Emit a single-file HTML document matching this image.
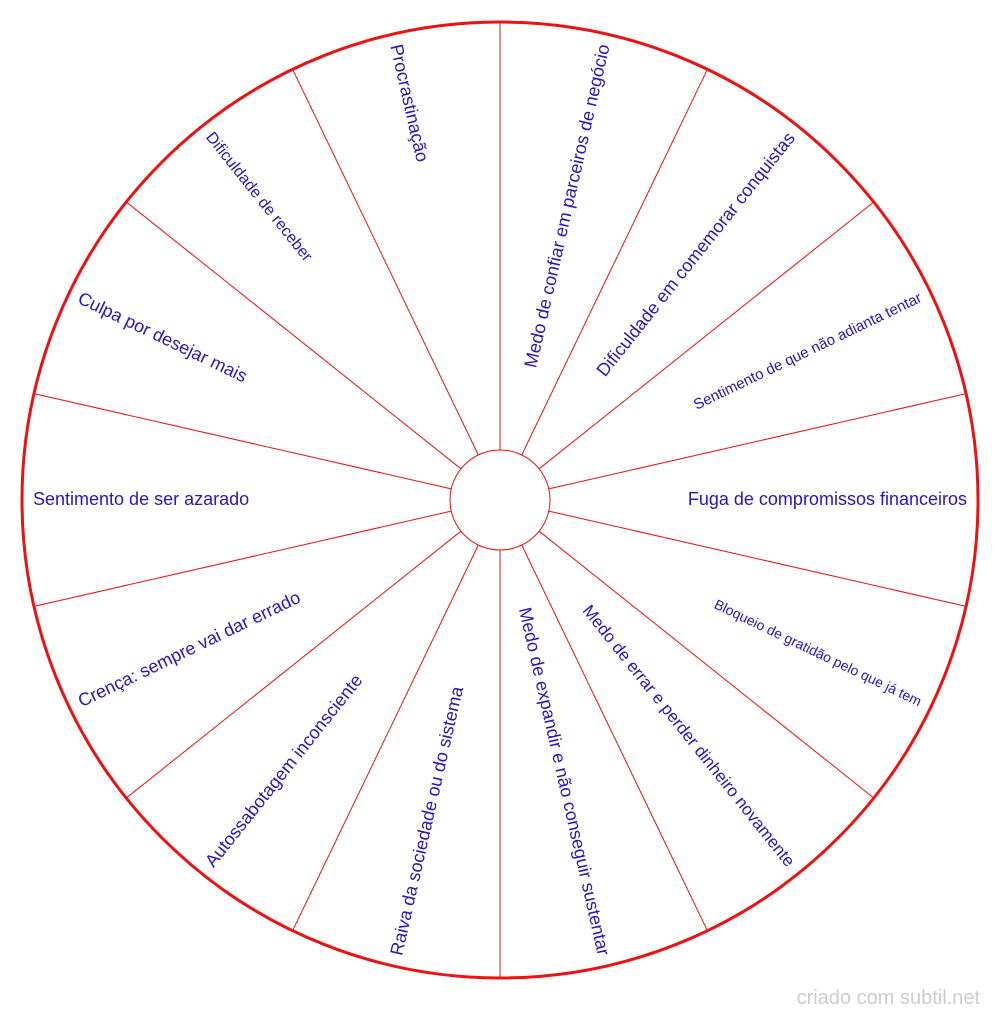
<!DOCTYPE html>
<html><head><meta charset="utf-8"><style>html,body{margin:0;padding:0;background:#fff}svg{display:block}</style></head>
<body>
<svg width="1000" height="1018" viewBox="0 0 1000 1018" xmlns="http://www.w3.org/2000/svg">
<g stroke="#ee1111" stroke-width="1">
<line x1="548.7" y1="488.9" x2="966" y2="393.6"/>
<line x1="539.1" y1="468.8" x2="873.7" y2="202"/>
<line x1="521.7" y1="455" x2="707.4" y2="69.3"/>
<line x1="500" y1="450" x2="500" y2="22"/>
<line x1="478.3" y1="455" x2="292.6" y2="69.3"/>
<line x1="460.9" y1="468.8" x2="126.3" y2="202"/>
<line x1="451.3" y1="488.9" x2="34" y2="393.6"/>
<line x1="548.7" y1="511.1" x2="966" y2="606.4"/>
<line x1="539.1" y1="531.2" x2="873.7" y2="798"/>
<line x1="521.7" y1="545" x2="707.4" y2="930.7"/>
<line x1="500" y1="550" x2="500" y2="978"/>
<line x1="478.3" y1="545" x2="292.6" y2="930.7"/>
<line x1="460.9" y1="531.2" x2="126.3" y2="798"/>
<line x1="451.3" y1="511.1" x2="34" y2="606.4"/>
</g>
<circle cx="500" cy="500" r="50" fill="none" stroke="#ee1111" stroke-width="1"/>
<circle cx="500" cy="500" r="478" fill="none" stroke="#ee1111" stroke-width="3"/>
<g font-family="Liberation Sans, sans-serif" fill="#2a14c4" font-size="18" dominant-baseline="central">
<text x="967" y="499" text-anchor="end">Fuga de compromissos financeiros</text>
<text x="920.8" y="297" text-anchor="end" font-size="15" transform="rotate(-25.71 920.8 297)">Sentimento de que não adianta tentar</text>
<text x="791.2" y="134.5" text-anchor="end" transform="rotate(-51.43 791.2 134.5)">Dificuldade em comemorar conquistas</text>
<text x="603.9" y="44.5" text-anchor="end" transform="rotate(-77.14 603.9 44.5)">Medo de confiar em parceiros de negócio</text>
<text x="396.1" y="44.5" text-anchor="start" transform="rotate(77.14 396.1 44.5)">Procrastinação</text>
<text x="208.8" y="134.5" text-anchor="start" font-size="16" transform="rotate(51.43 208.8 134.5)">Dificuldade de receber</text>
<text x="79.2" y="297" text-anchor="start" transform="rotate(25.71 79.2 297)">Culpa por desejar mais</text>
<text x="33" y="499" text-anchor="start">Sentimento de ser azarado</text>
<text x="79.2" y="702" text-anchor="start" transform="rotate(-25.71 79.2 702)">Crença: sempre vai dar errado</text>
<text x="208.8" y="864.5" text-anchor="start" transform="rotate(-51.43 208.8 864.5)">Autossabotagem inconsciente</text>
<text x="396.1" y="955" text-anchor="start" transform="rotate(-77.14 396.1 955)">Raiva da sociedade ou do sistema</text>
<text x="603.9" y="955" text-anchor="end" transform="rotate(77.14 603.9 955)">Medo de expandir e não conseguir sustentar</text>
<text x="791.2" y="864.5" text-anchor="end" font-size="17" transform="rotate(51.43 791.2 864.5)">Medo de errar e perder dinheiro novamente</text>
<text x="920.8" y="702" text-anchor="end" font-size="14" transform="rotate(25.71 920.8 702)">Bloqueio de gratidão pelo que já tem</text>
</g>
<text x="980" y="1004" text-anchor="end" font-family="Liberation Sans, sans-serif" font-size="20" fill="#cccccc">criado com subtil.net</text>
</svg>
</body></html>
